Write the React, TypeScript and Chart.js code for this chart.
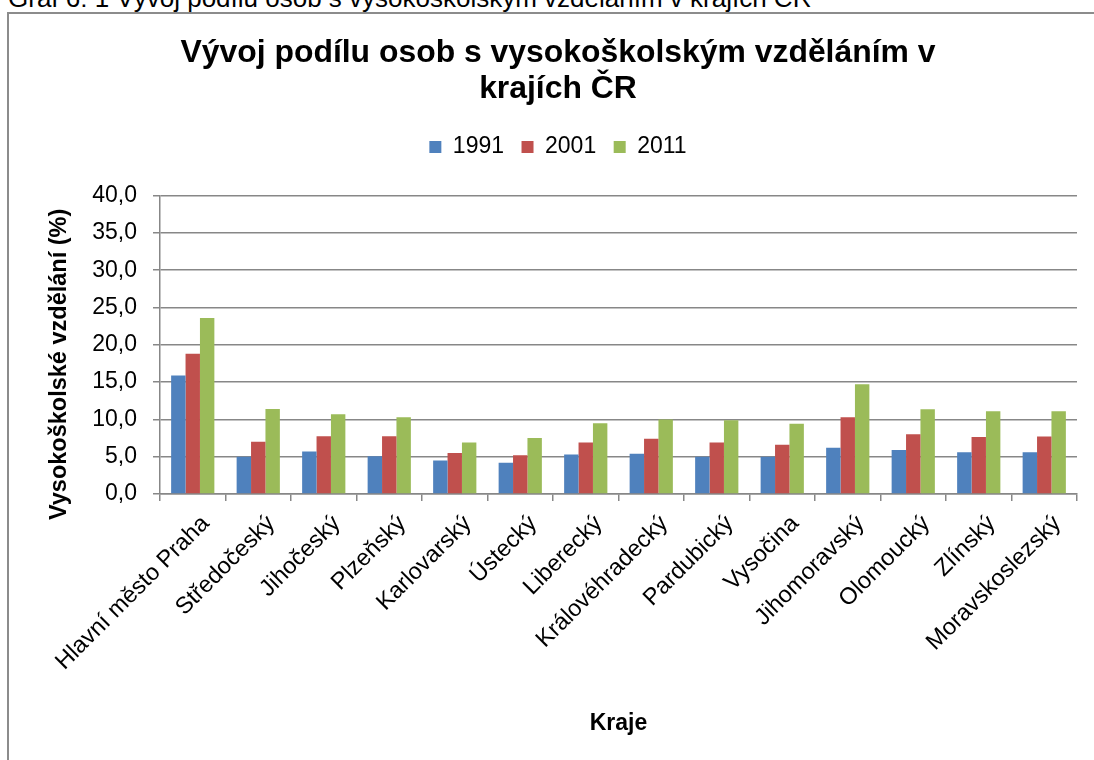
import React, { useEffect, useRef } from 'react';
import { Chart, registerables, layouts } from 'chart.js';

Chart.register(...registerables);

const caption = 'Graf 6: 1 Vývoj podílu osob s vysokoškolským vzděláním v krajích ČR';
const titleLines = ['Vývoj podílu osob s vysokoškolským vzděláním v', 'krajích ČR'];
const yAxisTitle = 'Vysokoškolské vzdělání (%)';
const xAxisTitle = 'Kraje';

const categories = [
  'Hlavní město Praha',
  'Středočeský',
  'Jihočeský',
  'Plzeňský',
  'Karlovarský',
  'Ústecký',
  'Liberecký',
  'Královéhradecký',
  'Pardubický',
  'Vysočina',
  'Jihomoravský',
  'Olomoucký',
  'Zlínský',
  'Moravskoslezský',
];

const seriesNames = ['1991', '2001', '2011'];
const values1991 = [15.9, 5.0, 5.7, 5.05, 4.5, 4.2, 5.3, 5.4, 5.0, 5.0, 6.2, 5.9, 5.6, 5.6];
const values2001 = [18.8, 7.0, 7.75, 7.75, 5.5, 5.2, 6.9, 7.4, 6.9, 6.6, 10.3, 8.0, 7.65, 7.7];
const values2011 = [23.6, 11.4, 10.7, 10.3, 6.9, 7.5, 9.5, 10.0, 9.9, 9.4, 14.7, 11.35, 11.1, 11.1];
const seriesColors = ['#4F81BD', '#C0504D', '#9BBB59'];

const yMin = 0;
const yMax = 40;
const yStep = 5;

const FONT = '"Liberation Sans", Arial, sans-serif';
const AXIS_COLOR = '#878787';

// empty layout box that keeps a gap between the legend and the plot area
const legendSpacer = {
  id: 'legendSpacer',
  beforeInit(chart: any) {
    const box: any = {
      position: 'top',
      weight: 500,
      fullSize: true,
      options: { stackWeight: 1 },
      left: 0,
      top: 0,
      right: 0,
      bottom: 0,
      width: 0,
      height: 0,
      isHorizontal: () => true,
      update(maxWidth: number) {
        box.width = maxWidth;
        box.height = 27;
      },
      draw() {},
    };
    layouts.addBox(chart, box);
  },
};

export default function App() {
  const canvasRef = useRef<HTMLCanvasElement | null>(null);

  useEffect(() => {
    if (!canvasRef.current) return;
    const chart = new Chart(canvasRef.current, {
      type: 'bar',
      data: {
        labels: categories,
        datasets: [values1991, values2001, values2011].map((vals, i) => ({
          label: seriesNames[i],
          data: vals,
          backgroundColor: seriesColors[i],
          borderWidth: 0,
          categoryPercentage: 0.66,
          barPercentage: 1.0,
        })),
      },
      plugins: [legendSpacer],
      options: {
        animation: false,
        responsive: false,
        maintainAspectRatio: false,
        layout: { padding: { top: 0, left: 0, right: 0, bottom: 0 } },
        plugins: {
          title: {
            display: true,
            text: titleLines,
            color: '#000',
            font: { family: FONT, size: 31.9, weight: 'bold', lineHeight: 1.13 },
            padding: { top: 21, bottom: 11 },
          },
          legend: {
            display: true,
            position: 'top',
            labels: {
              boxWidth: 12,
              boxHeight: 12,
              padding: 17.5,
              color: '#000',
              font: { family: FONT, size: 23 },
            },
          },
          tooltip: { enabled: false },
        },
        scales: {
          x: {
            grid: {
              display: true,
              drawOnChartArea: false,
              drawTicks: true,
              tickLength: 7,
              color: AXIS_COLOR,
              lineWidth: 1.5,
              offset: true,
            },
            border: { display: true, color: AXIS_COLOR, width: 1.5 },
            ticks: {
              color: '#000',
              font: { family: FONT, size: 23.5 },
              minRotation: 45,
              maxRotation: 45,
              autoSkip: false,
              padding: 9,
              labelOffset: 13,
            },
            title: {
              display: true,
              text: xAxisTitle,
              color: '#000',
              font: { family: FONT, size: 23, weight: 'bold', lineHeight: 1.2 },
              padding: { top: 0, bottom: 23 },
            },
            afterFit: (s: any) => {
              s.height = 266;
              s.paddingLeft = 0;
              s.paddingRight = 30;
            },
          },
          y: {
            min: yMin,
            max: yMax,
            ticks: {
              stepSize: yStep,
              color: '#000',
              font: { family: FONT, size: 23 },
              padding: 16,
              callback: (v: any) => Number(v).toFixed(1).replace('.', ','),
            },
            grid: { color: AXIS_COLOR, lineWidth: 1.5, tickLength: 7 },
            border: { display: true, color: AXIS_COLOR, width: 1.5 },
            title: {
              display: true,
              text: yAxisTitle + '\u00a0\u00a0\u00a0\u00a0\u00a0\u00a0',
              color: '#000',
              font: { family: FONT, size: 23.5, weight: 'bold', lineHeight: 1.2 },
              padding: { top: 36, bottom: 0 },
            },
            afterFit: (s: any) => {
              s.width = 151;
            },
          },
        },
      } as any,
    });
    return () => chart.destroy();
  }, []);

  return (
    <div
      style={{
        position: 'fixed',
        left: 0,
        top: 0,
        width: 1094,
        height: 760,
        overflow: 'hidden',
        background: '#fff',
      }}
    >
      <div
        style={{
          position: 'absolute',
          left: 8,
          top: -15,
          fontFamily: FONT,
          fontSize: 26,
          lineHeight: '26px',
          whiteSpace: 'nowrap',
          color: '#000',
        }}
      >
        {caption}
      </div>
      <div
        style={{
          position: 'absolute',
          left: 7,
          top: 12,
          width: 1110,
          height: 800,
          border: '2px solid #8c8c8c',
          boxSizing: 'border-box',
        }}
      />
      <canvas
        ref={canvasRef}
        width={1098}
        height={746}
        style={{ position: 'absolute', left: 9, top: 14, width: 1098, height: 746 }}
      />
    </div>
  );
}
